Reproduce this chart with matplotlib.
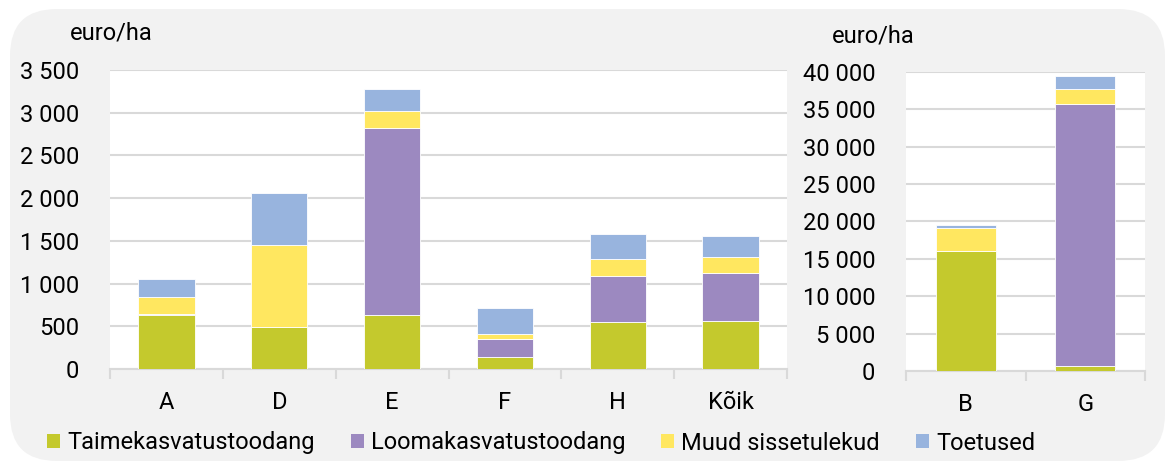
import numpy as np
import matplotlib.pyplot as plt
from matplotlib.patches import FancyBboxPatch, Patch
from matplotlib.ticker import FuncFormatter, MultipleLocator, FixedLocator

plt.rcParams['font.family'] = ['Roboto', 'DejaVu Sans']

# Andmed (euro/ha)
left_cats = ['A', 'D', 'E', 'F', 'H', 'Kõik']
left_taime = [630, 490, 630, 135, 545, 560]
left_looma = [10, 0, 2190, 220, 540, 560]
left_muud = [205, 965, 200, 58, 205, 195]
left_toetus = [205, 610, 260, 298, 290, 240]

right_cats = ['B', 'G']
right_taime = [16050, 670]
right_looma = [0, 35030]
right_muud = [3030, 2000]
right_toetus = [500, 1740]

series_names = ['Taimekasvatustoodang', 'Loomakasvatustoodang',
                'Muud sissetulekud', 'Toetused']
colors = ['#c4c92d', '#9c89c0', '#ffe760', '#98b4de']

fig = plt.figure(figsize=(11.7, 4.71), dpi=100)
W, H = 1170, 471
FS = 17

# Taust ümarate nurkadega
bg = FancyBboxPatch((10 / W, 10 / H), 1155 / W, 452 / H,
                    boxstyle="round,pad=0,rounding_size=0.04",
                    transform=fig.transFigure, facecolor='#f2f2f2',
                    edgecolor='none', zorder=-10, mutation_aspect=W / H)
fig.patches.append(bg)

ax1 = fig.add_axes([110 / W, 1 - 369 / H, 677 / W, 299 / H])
ax2 = fig.add_axes([906 / W, 1 - 371 / H, 239 / W, 299 / H])

thousands = FuncFormatter(lambda v, p: f"{int(v):,}".replace(',', ' '))


def draw(ax, cats, data, ymax, step):
    x = np.arange(len(cats))
    bottom = np.zeros(len(cats))
    for vals, c in zip(data, colors):
        ax.bar(x, vals, width=0.5, bottom=bottom, color=c,
               edgecolor='white', linewidth=0.6, zorder=3)
        bottom += np.array(vals)
    ax.set_xlim(-0.5, len(cats) - 0.5)
    ax.set_ylim(0, ymax)
    ax.yaxis.set_major_locator(MultipleLocator(step))
    ax.yaxis.set_major_formatter(thousands)
    ax.set_xticks(x)
    ax.set_xticklabels(cats)
    ax.xaxis.set_minor_locator(FixedLocator(np.arange(len(cats) + 1) - 0.5))
    ax.tick_params(axis='x', which='major', length=0, pad=16, labelsize=FS)
    ax.tick_params(axis='x', which='minor', length=7, width=1.5, color='#d9d9d9')
    ax.tick_params(axis='y', length=0, pad=22, labelsize=FS)
    ax.grid(axis='y', color='#d9d9d9', linewidth=1.5, zorder=0)
    for s in ['top', 'right', 'left']:
        ax.spines[s].set_visible(False)
    ax.spines['bottom'].set_color('#d9d9d9')
    ax.spines['bottom'].set_linewidth(1.5)
    ax.set_facecolor('white')


draw(ax1, left_cats, [left_taime, left_looma, left_muud, left_toetus], 3500, 500)
draw(ax2, right_cats, [right_taime, right_looma, right_muud, right_toetus], 40000, 5000)

fig.text(70 / W, 1 - 33 / H, 'euro/ha', fontsize=FS, va='center', ha='left')
fig.text(832 / W, 1 - 36 / H, 'euro/ha', fontsize=FS, va='center', ha='left')

handles = [Patch(facecolor=c, edgecolor='none') for c in colors]
fig.legend(handles, series_names, loc='center left', ncol=4,
           bbox_to_anchor=(47 / W, 1 - 443 / H), frameon=False,
           fontsize=FS, handlelength=0.55, handleheight=0.55,
           handletextpad=0.3, columnspacing=1.53, borderaxespad=0,
           borderpad=0)

fig.savefig('out.png', dpi=100, facecolor='white')
